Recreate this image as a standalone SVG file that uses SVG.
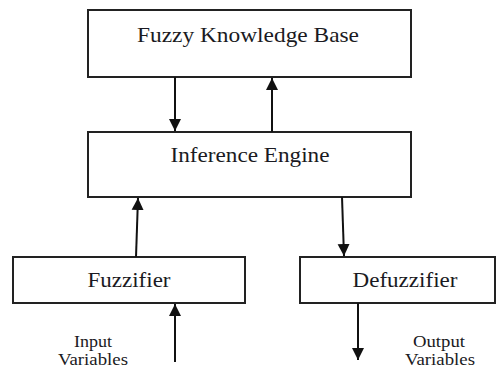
<svg xmlns="http://www.w3.org/2000/svg" width="499" height="371" viewBox="0 0 499 371">
<style>
.box{fill:#fff;stroke:#222;stroke-width:2}
.t{font-family:"Liberation Serif","Times New Roman",serif;fill:#1a1a22;text-anchor:middle}
.big{font-size:21px}
.sm{font-size:17px}
.c{stroke:#111;stroke-width:2;fill:none;marker-end:url(#ah)}
</style>
<defs>
<marker id="ah" markerUnits="userSpaceOnUse" markerWidth="12" markerHeight="14" viewBox="0 0 12 14" refX="12" refY="7" orient="auto">
<path d="M0,1 L12,7 L0,13 Z" fill="#111"/>
</marker>
</defs>
<rect width="499" height="371" fill="#fff"/>
<g id="kb"><rect class="box" x="88" y="10" width="323" height="67"/><text class="t big" x="248" y="42" textLength="222" lengthAdjust="spacingAndGlyphs">Fuzzy Knowledge Base</text></g>
<g id="ie"><rect class="box" x="88" y="132" width="323" height="65"/><text class="t big" x="250" y="162" textLength="159" lengthAdjust="spacingAndGlyphs">Inference Engine</text></g>
<g id="fz"><rect class="box" x="13" y="257" width="232" height="46"/><text class="t big" x="129" y="287" textLength="83" lengthAdjust="spacingAndGlyphs">Fuzzifier</text></g>
<g id="dfz"><rect class="box" x="300" y="257" width="195" height="46"/><text class="t big" x="405" y="287" textLength="105" lengthAdjust="spacingAndGlyphs">Defuzzifier</text></g>
<g id="in"><text class="t sm" x="93" y="347" textLength="38" lengthAdjust="spacingAndGlyphs">Input</text><text class="t sm" x="93" y="365" textLength="70" lengthAdjust="spacingAndGlyphs">Variables</text></g>
<g id="out"><text class="t sm" x="439" y="347" textLength="52" lengthAdjust="spacingAndGlyphs">Output</text><text class="t sm" x="440" y="365" textLength="70" lengthAdjust="spacingAndGlyphs">Variables</text></g>
<g id="connectors">
<line class="c" x1="175" y1="77" x2="175" y2="131"/>
<line class="c" x1="272" y1="132" x2="272" y2="78"/>
<line class="c" x1="136" y1="257" x2="138" y2="198"/>
<line class="c" x1="342" y1="197" x2="344" y2="256"/>
<line class="c" x1="175" y1="362" x2="175" y2="304"/>
<line class="c" x1="358" y1="303" x2="358" y2="360"/>
</g>
</svg>
